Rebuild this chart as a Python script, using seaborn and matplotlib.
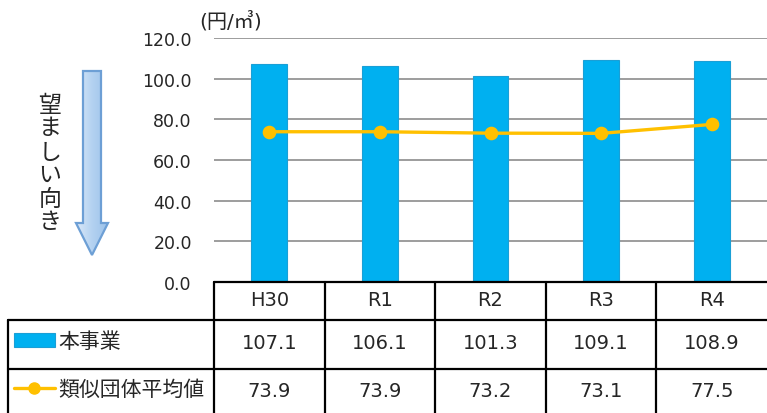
import numpy as np
import pandas as pd
import matplotlib
matplotlib.use("Agg")
import matplotlib.pyplot as plt
from matplotlib.patches import Polygon, Rectangle
from matplotlib.lines import Line2D
import seaborn as sns

# --- data ---
years = ["H30", "R1", "R2", "R3", "R4"]
business = [107.1, 106.1, 101.3, 109.1, 108.9]
peer_avg = [73.9, 73.9, 73.2, 73.1, 77.5]
series_names = ["本事業", "類似団体平均値"]
unit_label = "(円/㎥)"
direction_label = "望ましい向き"
y_ticks = [0, 20, 40, 60, 80, 100, 120]

BAR_BLUE = "#00B0F0"
LINE_GOLD = "#FFC000"

sns.set_style("white")
plt.rcParams["font.family"] = ["DejaVu Sans", "Noto Sans CJK JP"]

W, H = 767, 414
fig = plt.figure(figsize=(W / 100, H / 100), dpi=100)

# main plotting area (pixel geometry converted to figure fractions)
L, R, T, B = 214, 767, 39, 283
ax = fig.add_axes([L / W, 1 - B / H, (R - L) / W, (B - T) / H])

df = pd.DataFrame({"year": years, "business": business, "peer": peer_avg})
sns.barplot(data=df, x="year", y="business", color=BAR_BLUE, saturation=1,
            width=0.325, edgecolor="#1a9fd6", linewidth=0.8, ax=ax, zorder=2)
sns.pointplot(data=df, x="year", y="peer", color=LINE_GOLD, markers="o",
              markersize=8, linewidth=2.4, ax=ax, zorder=3)

ax.set_xlim(-0.5, len(years) - 0.5)
ax.set_ylim(0, 120)
ax.set_yticks(y_ticks)
ax.set_yticklabels([f"{v:.1f}" for v in y_ticks], fontsize=12.5)
ax.tick_params(axis="y", length=0, pad=16)
ax.set_xticks([])
ax.set_xlabel("")
ax.set_ylabel("")
ax.grid(axis="y", color="#8c8c8c", linewidth=1.2, zorder=0)
ax.set_axisbelow(True)
for s in ax.spines.values():
    s.set_visible(False)

# overlay in pixel coordinates for the table, arrow and annotations
ov = fig.add_axes([0, 0, 1, 1], zorder=5)
ov.set_xlim(0, W)
ov.set_ylim(H, 0)
ov.axis("off")
ov.patch.set_alpha(0)

fig.text(199 / W, 1 - 21 / H, unit_label, fontsize=14.5, ha="left", va="center")

# downward arrow with a soft horizontal gradient
arrow_pts = [(83, 72), (101, 72), (101, 224), (108, 224), (92, 256),
             (76, 224), (83, 224)]
arrow = Polygon(arrow_pts, closed=True, facecolor="none",
                edgecolor="#6d9fd5", linewidth=1.6, zorder=3)
grad = np.linspace(0, 1, 64).reshape(1, -1)
cmap = matplotlib.colors.LinearSegmentedColormap.from_list(
    "arrowgrad", ["#dce9f8", "#b4d2f1", "#9cc2ea"])
img = ov.imshow(grad, extent=(76, 108, 256, 72), cmap=cmap, aspect="auto",
                zorder=2, interpolation="bicubic")
clip = Polygon(arrow_pts, closed=True, transform=ov.transData)
img.set_clip_path(clip)
ov.add_patch(arrow)
ov.set_xlim(0, W)
ov.set_ylim(H, 0)

# vertical caption, characters stacked upright
ov.text(50, 164, "\n".join(direction_label), fontsize=16.5, ha="center",
        va="center", linespacing=1.02, family=["Noto Sans CJK JP"])

# data table
col_w = (R - L) / len(years)
col_edges = [L + i * col_w for i in range(len(years) + 1)]
lw = 1.6
ov.add_line(Line2D([L, R], [B, B], color="black", lw=lw))
ov.add_line(Line2D([8, R], [321, 321], color="black", lw=lw))
ov.add_line(Line2D([8, R], [370, 370], color="black", lw=lw))
ov.add_line(Line2D([8, 8], [321, H + 2], color="black", lw=lw))
for xe in col_edges[:-1]:
    ov.add_line(Line2D([xe, xe], [B, H + 2], color="black", lw=lw))

for i, yr in enumerate(years):
    cx = L + (i + 0.5) * col_w
    ov.text(cx, 301, yr, fontsize=14, ha="center", va="center")
    ov.text(cx, 344, f"{business[i]:.1f}", fontsize=14, ha="center", va="center")
    ov.text(cx, 392, f"{peer_avg[i]:.1f}", fontsize=14, ha="center", va="center")

# legend keys inside the table
ov.add_patch(Rectangle((14, 334), 41, 14, facecolor=BAR_BLUE,
                       edgecolor="#1a9fd6", linewidth=0.8))
ov.text(58, 342, series_names[0], fontsize=15, ha="left", va="center",
        family=["Noto Sans CJK JP"])
ov.add_line(Line2D([14, 55], [389, 389], color=LINE_GOLD, lw=2.4))
ov.add_line(Line2D([34], [389], color=LINE_GOLD, marker="o", markersize=8))
ov.text(58, 390, series_names[1], fontsize=15, ha="left", va="center",
        family=["Noto Sans CJK JP"])

fig.savefig("out.png", dpi=100)
